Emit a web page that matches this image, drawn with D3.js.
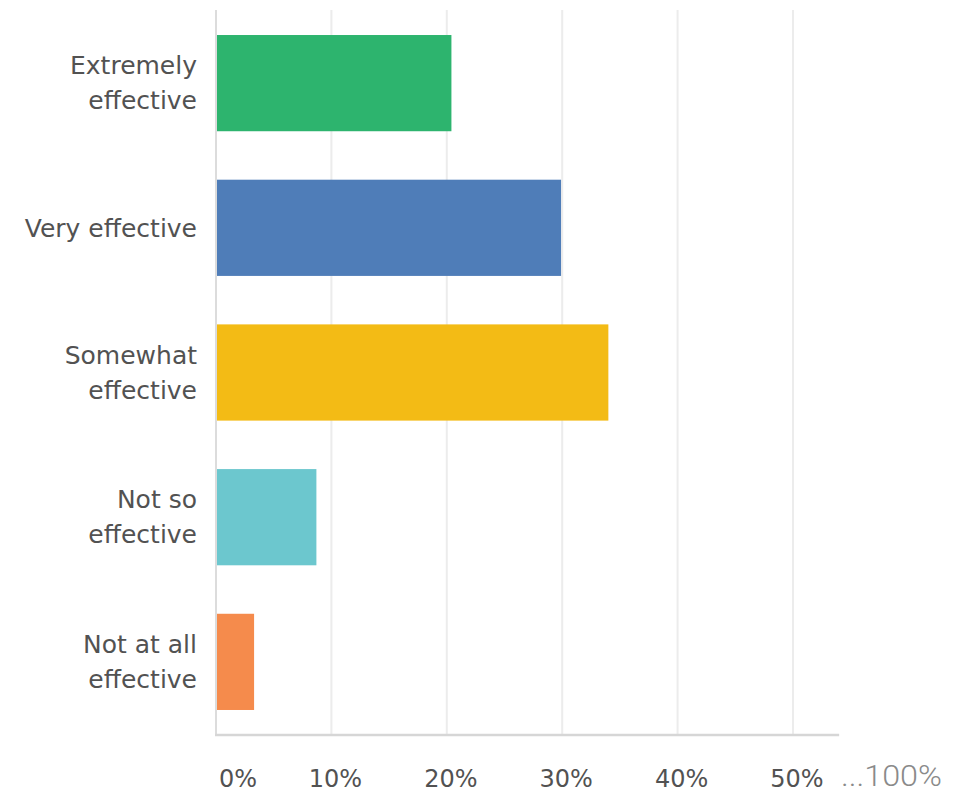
<!DOCTYPE html>
<html><head><meta charset="utf-8">
<script src="https://cdn.jsdelivr.net/npm/d3@7"></script>
<style>body{margin:0;background:#fff}svg{display:block}</style>
</head><body>
<script>
const categories = [["Extremely","effective"],["Very effective"],["Somewhat","effective"],["Not so","effective"],["Not at all","effective"]];
const values = [20.4, 29.9, 34.0, 8.7, 3.3];
const colors = ["#2db46e","#4f7db8","#f3bb15","#6cc7ce","#f58b4c"];
const tickValues = [0,10,20,30,40,50];
const tickLabels = ["0%","10%","20%","30%","40%","50%"];
const extraLabel = "...100%";

const W=953,H=793;
const svg=d3.select("body").append("svg").attr("width",W).attr("height",H);
const x=d3.scaleLinear().domain([0,50]).range([216,793]);
const y=d3.scaleBand().domain(d3.range(categories.length)).range([11,734]).paddingInner(0.335).paddingOuter(0.166);

// gridlines
svg.append("g").selectAll("line").data(tickValues.slice(1)).join("line")
  .attr("x1",d=>x(d)).attr("x2",d=>x(d)).attr("y1",10).attr("y2",735)
  .attr("stroke","#ececec").attr("stroke-width",2);
// left axis line
svg.append("line").attr("x1",x(0)).attr("x2",x(0)).attr("y1",10).attr("y2",735).attr("stroke","#dcdcdc").attr("stroke-width",2);
// bottom axis line
svg.append("line").attr("x1",x(0)-1).attr("x2",x(54)).attr("y1",735).attr("y2",735).attr("stroke","#d6d6d6").attr("stroke-width",2.5);

// bars
svg.append("g").selectAll("rect").data(values).join("rect")
  .attr("x",x(0)+1).attr("y",(d,i)=>y(i)).attr("width",d=>x(d)-x(0)-1).attr("height",y.bandwidth())
  .attr("fill",(d,i)=>colors[i]);

// category labels
const lab=svg.append("g").attr("font-family","DejaVu Sans, sans-serif").attr("font-size",25).attr("fill","#525252").attr("text-anchor","end");
categories.forEach((lines,i)=>{
  const cy=y(i)+y.bandwidth()/2;
  const lh=35;
  lines.forEach((t,j)=>{
    lab.append("text").attr("x",197).attr("y",cy+(j-(lines.length-1)/2)*lh).attr("dy","0.35em").text(t);
  });
});

// x tick labels
const ax=svg.append("g").attr("font-family","DejaVu Sans, sans-serif").attr("font-size",24).attr("fill","#525252");
ax.selectAll("text").data(tickValues).join("text")
  .attr("x",(d,i)=>i===0?x(d)+3:x(d)+4).attr("y",779).attr("dy","0.35em")
  .attr("text-anchor",(d,i)=>i===0?"start":"middle")
  .text((d,i)=>tickLabels[i]);
svg.append("text").attr("x",841).attr("y",786)
  .attr("font-family","Roboto, sans-serif").attr("font-weight",300).attr("font-size",30).attr("fill","#8a8a8a")
  .attr("textLength",101).attr("lengthAdjust","spacingAndGlyphs")
  .text(extraLabel);
</script>
</body></html>
